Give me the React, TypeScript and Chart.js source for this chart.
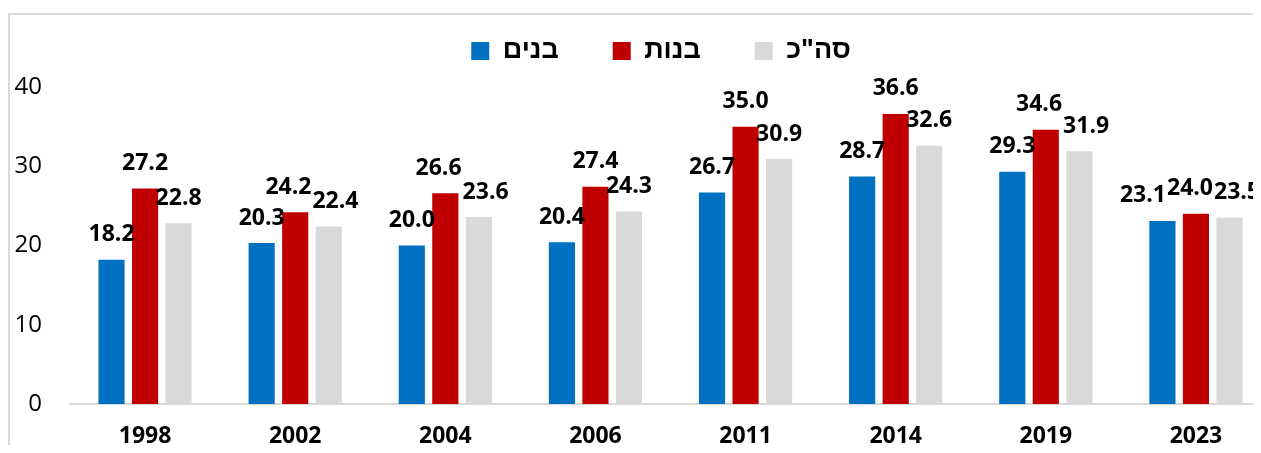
import React, { useEffect, useRef } from "react";
import { Chart, registerables } from "chart.js";

Chart.register(...registerables);

const years = ["1998", "2002", "2004", "2006", "2011", "2014", "2019", "2023"];
const boys = [18.2, 20.3, 20.0, 20.4, 26.7, 28.7, 29.3, 23.1];
const girls = [27.2, 24.2, 26.6, 27.4, 35.0, 36.6, 34.6, 24.0];
const total = [22.8, 22.4, 23.6, 24.3, 30.9, 32.6, 31.9, 23.5];
const seriesNames = ["בנים", "בנות", 'סה"כ'];
const seriesColors = ["#0070c0", "#c00000", "#d9d9d9"];
const yTicks = [0, 10, 20, 30, 40];

const dataLabels = {
  id: "dataLabels",
  afterDatasetsDraw(chart: any) {
    const ctx = chart.ctx;
    ctx.save();
    ctx.font = "bold 23px 'Open Sans', sans-serif";
    ctx.fillStyle = "#000";
    ctx.textAlign = "center";
    ctx.textBaseline = "middle";
    const nDs = chart.data.datasets.length;
    const nCat = chart.data.labels.length;
    // right edge of the visible part of the canvas
    const rect = chart.canvas.getBoundingClientRect();
    const viewW = document.documentElement.clientWidth || window.innerWidth;
    const limit = Math.min(chart.width, viewW - rect.left) - 1;
    for (let c = 0; c < nCat; c++) {
      const items: any[] = [];
      for (let d = 0; d < nDs; d++) {
        const bar = chart.getDatasetMeta(d).data[c];
        const text = Number(chart.data.datasets[d].data[c]).toFixed(1);
        items.push({ text, x: bar.x, y: bar.y - 25, w: ctx.measureText(text).width });
      }
      // simple collision avoidance between neighbouring labels
      for (let iter = 0; iter < 6; iter++) {
        for (let k = 0; k < items.length - 1; k++) {
          const a = items[k];
          const b = items[k + 1];
          if (Math.abs(a.y - b.y) >= 24) continue;
          const need = (a.w + b.w) / 2 + 1;
          const gap = b.x - a.x;
          if (gap < need) {
            const shift = (need - gap) / 2;
            a.x -= shift;
            b.x += shift;
          }
        }
      }
      // keep labels inside the visible area
      const last = items[items.length - 1];
      if (last.x + last.w / 2 > limit) last.x = limit - last.w / 2;
      for (let k = items.length - 2; k >= 0; k--) {
        const a = items[k];
        const b = items[k + 1];
        if (Math.abs(a.y - b.y) >= 24) continue;
        const maxX = b.x - (a.w + b.w) / 2 - 1;
        if (a.x > maxX) a.x = maxX;
      }
      items.forEach((it) => ctx.fillText(it.text, it.x, it.y));
    }
    ctx.restore();
  },
};

const legendHeight = {
  id: "legendHeight",
  beforeInit(chart: any) {
    const legend = chart.legend;
    if (!legend) return;
    const orig = legend.fit;
    legend.fit = function () {
      orig.call(this);
      this.height = 103.5;
    };
  },
};

export default function App() {
  const ref = useRef<HTMLCanvasElement>(null);
  useEffect(() => {
    if (!ref.current) return;
    const chart = new Chart(ref.current, {
      type: "bar",
      data: {
        labels: years,
        datasets: [boys, girls, total].map((d, i) => ({
          label: seriesNames[i],
          data: d,
          backgroundColor: seriesColors[i],
          borderWidth: 0,
          barPercentage: 0.78,
          categoryPercentage: 0.67,
        })),
      },
      options: {
        responsive: false,
        animation: false,
        layout: { padding: { left: 4, right: 2, top: -31.5, bottom: 14 } },
        plugins: {
          tooltip: { enabled: false },
          legend: {
            display: true,
            position: "top",
            labels: {
              boxWidth: 18,
              boxHeight: 18,
              padding: 54,
              color: "#000",
              font: { family: "'Liberation Sans', Arial, sans-serif", size: 27, weight: "bold" },
            },
          },
        },
        scales: {
          x: {
            grid: { display: false, drawTicks: false },
            border: { display: true, color: "#d9d9d9", width: 2 },
            ticks: {
              padding: 19,
              color: "#000",
              font: { family: "'Open Sans', sans-serif", size: 23, weight: "bold" },
            },
            afterFit: (s: any) => {
              s.height = 47;
            },
          },
          y: {
            min: 0,
            max: 40,
            afterBuildTicks: (s: any) => {
              s.ticks = yTicks.map((v) => ({ value: v }));
            },
            grid: { display: false, drawTicks: false },
            border: { display: false },
            ticks: {
              padding: 28,
              color: "#000",
              font: { family: "'Open Sans', sans-serif", size: 24 },
            },
            afterFit: (s: any) => {
              s.width = 56;
            },
          },
          y2: {
            position: "right",
            display: true,
            grid: { display: false, drawTicks: false },
            border: { display: false },
            ticks: { display: false },
            afterFit: (s: any) => {
              s.width = 37;
            },
          },
        },
      } as any,
      plugins: [dataLabels, legendHeight],
    });
    return () => chart.destroy();
  }, []);

  return (
    <div style={{ position: "relative", width: 1253, height: 445, marginBottom: -8, overflow: "hidden" }}>
      <div
        style={{
          position: "absolute",
          left: 0,
          top: 5,
          width: 1400,
          height: 500,
          borderLeft: "2px solid #d9d9d9",
          borderTop: "2px solid #d9d9d9",
        }}
      >
        <canvas ref={ref} width={1300} height={450} style={{ display: "block", width: 1300, height: 450 }} />
      </div>
    </div>
  );
}
